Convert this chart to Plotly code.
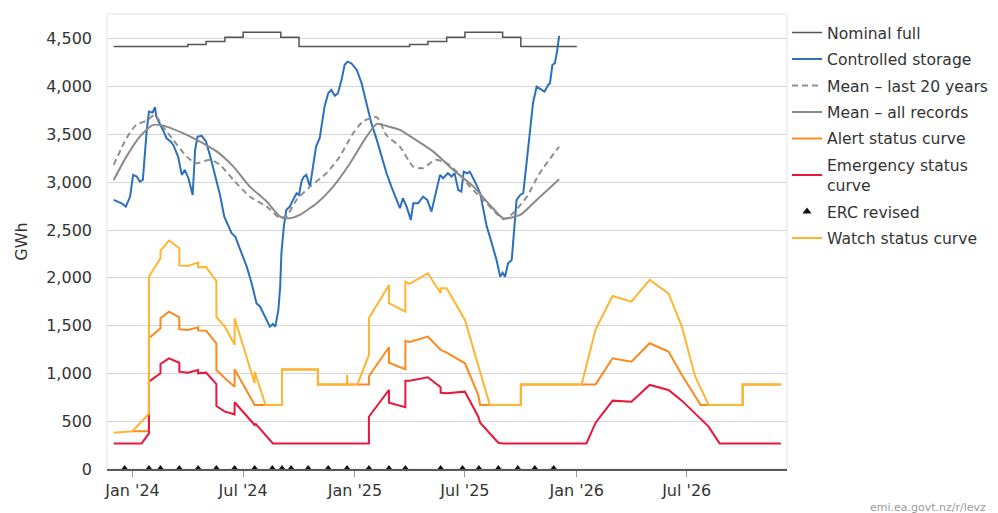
import plotly.graph_objects as go

# ---------------- data ----------------
nominal_dates = ["2023-12-01", "2024-04-01", "2024-05-01", "2024-06-01", "2024-07-01", "2024-09-01",
                 "2024-10-01", "2025-04-01", "2025-05-01", "2025-06-01", "2025-07-01", "2025-09-01",
                 "2025-10-01", "2026-01-01"]
nominal_vals = [4420, 4440, 4472, 4517, 4570, 4517, 4420, 4440, 4472, 4517, 4570, 4517, 4420, 4420]

storage_dates = [
    "2023-12-01", "2023-12-08", "2023-12-14", "2023-12-21", "2023-12-28", "2024-01-02", "2024-01-08",
    "2024-01-13", "2024-01-18", "2024-01-24", "2024-01-28", "2024-02-03", "2024-02-07", "2024-02-09",
    "2024-02-15", "2024-02-20", "2024-02-26", "2024-03-04", "2024-03-08", "2024-03-16", "2024-03-22",
    "2024-03-27", "2024-04-02", "2024-04-09", "2024-04-13", "2024-04-17", "2024-04-24", "2024-05-01",
    "2024-05-08", "2024-05-16", "2024-05-24", "2024-05-31", "2024-06-07", "2024-06-12", "2024-06-18",
    "2024-06-26", "2024-07-01", "2024-07-07", "2024-07-15", "2024-07-23", "2024-07-29", "2024-08-03",
    "2024-08-09", "2024-08-14", "2024-08-19", "2024-08-23", "2024-08-28", "2024-08-31", "2024-09-02",
    "2024-09-06", "2024-09-10", "2024-09-16", "2024-09-21", "2024-09-27", "2024-10-01", "2024-10-05",
    "2024-10-09", "2024-10-13", "2024-10-19", "2024-10-24", "2024-10-29", "2024-11-04", "2024-11-09",
    "2024-11-12", "2024-11-18", "2024-11-23", "2024-11-29", "2024-12-04", "2024-12-10", "2024-12-15",
    "2024-12-20", "2024-12-26", "2025-01-04", "2025-01-12", "2025-01-20", "2025-01-28", "2025-02-06",
    "2025-02-14", "2025-02-22", "2025-03-02", "2025-03-11", "2025-03-16", "2025-03-21", "2025-03-27",
    "2025-04-03", "2025-04-07", "2025-04-15", "2025-04-23", "2025-04-30", "2025-05-07", "2025-05-14",
    "2025-05-21", "2025-05-26", "2025-06-03", "2025-06-09", "2025-06-14", "2025-06-20", "2025-06-25",
    "2025-06-29", "2025-07-05", "2025-07-09", "2025-07-15", "2025-07-20", "2025-07-26", "2025-07-31",
    "2025-08-06", "2025-08-11", "2025-08-17", "2025-08-22", "2025-08-28", "2025-09-01", "2025-09-05",
    "2025-09-10", "2025-09-16", "2025-09-20", "2025-09-24", "2025-09-30", "2025-10-05", "2025-10-11",
    "2025-10-16", "2025-10-21", "2025-10-27", "2025-11-01", "2025-11-09", "2025-11-15", "2025-11-18",
    "2025-11-22", "2025-11-26", "2025-11-30", "2025-12-03"]
storage_vals = [
    2815, 2797, 2780, 2745, 2850, 3077, 3059,
    3006, 3024, 3513, 3739, 3728, 3785, 3687,
    3618, 3547, 3460, 3425, 3390, 3268, 3077,
    3129, 3042, 2867, 3338, 3477, 3485, 3425,
    3268, 3059, 2867, 2640, 2536, 2467, 2431,
    2292, 2222, 2117, 1943, 1734, 1698, 1629,
    1541, 1489, 1517, 1489, 1664, 1908, 2257,
    2536, 2710, 2745, 2815, 2885, 2867, 3006,
    3059, 3077, 2954, 3147, 3373, 3460, 3687,
    3791, 3931, 3966, 3905, 3931, 4071, 4228,
    4262, 4245, 4175, 4036, 3827, 3618, 3443,
    3268, 3094, 2954, 2815, 2728, 2833, 2745,
    2606, 2780, 2780, 2850, 2815, 2693, 2885,
    3077, 3042, 3094, 3059, 3094, 2920, 2902,
    3111, 3094, 3111, 3042, 2972, 2885, 2710,
    2536, 2431, 2310, 2187, 2012, 2054, 2012,
    2152, 2187, 2536, 2815, 2867, 2885, 3234,
    3547, 3827, 4001, 3984, 3949, 4018, 4036,
    4228, 4245, 4385, 4531]

mean20_dates = ["2023-12-01", "2023-12-22", "2024-01-07", "2024-01-24", "2024-02-07", "2024-02-20",
                "2024-03-08", "2024-03-30", "2024-04-15", "2024-05-08", "2024-05-24", "2024-06-15",
                "2024-07-12", "2024-08-09", "2024-08-31", "2024-09-10", "2024-09-27", "2024-10-19",
                "2024-11-15", "2024-12-07", "2024-12-29", "2025-01-14", "2025-02-06", "2025-02-22",
                "2025-03-16", "2025-04-07", "2025-04-23", "2025-05-13", "2025-06-01", "2025-06-23",
                "2025-07-09", "2025-07-31", "2025-08-19", "2025-09-02", "2025-09-18", "2025-10-11",
                "2025-11-01", "2025-12-03"]
mean20_vals = [3181, 3460, 3600, 3645, 3704, 3582,
               3443, 3268, 3199, 3234, 3181, 3024,
               2850, 2745, 2623, 2640, 2815, 2954,
               3094, 3268, 3513, 3635, 3680, 3490,
               3373, 3163, 3147, 3234, 3199, 3077,
               2954, 2815, 2693, 2613, 2676, 2850,
               3094, 3373]

meanall_dates = ["2023-12-01", "2023-12-22", "2024-01-13", "2024-02-04", "2024-02-26", "2024-03-24",
                 "2024-04-21", "2024-05-19", "2024-06-15", "2024-07-12", "2024-08-09", "2024-08-31",
                 "2024-09-16", "2024-10-02", "2024-10-30", "2024-11-26", "2024-12-24", "2025-01-20",
                 "2025-02-06", "2025-02-22", "2025-03-16", "2025-04-07", "2025-05-10", "2025-06-12",
                 "2025-07-15", "2025-08-11", "2025-09-02", "2025-09-30", "2025-10-27", "2025-12-03"]
meanall_vals = [3024, 3268, 3477, 3600, 3582, 3513,
                3425, 3320, 3163, 2954, 2797, 2640,
                2623, 2658, 2780, 2954, 3199, 3477,
                3610, 3589, 3547, 3460, 3320, 3129,
                2954, 2763, 2623, 2658, 2815, 3031]

alert_dates = ["2024-01-01", "2024-01-28", "2024-01-28", "2024-02-16", "2024-02-16", "2024-03-01",
               "2024-03-18", "2024-03-18", "2024-04-01", "2024-04-18", "2024-04-18", "2024-05-01",
               "2024-05-18", "2024-05-18", "2024-06-01", "2024-06-17", "2024-06-17", "2024-07-20",
               "2024-09-03", "2024-09-03", "2024-11-01", "2024-11-01", "2025-01-24", "2025-01-24",
               "2025-02-26", "2025-02-26", "2025-03-25", "2025-03-25", "2025-04-01", "2025-05-01",
               "2025-05-22", "2025-06-01", "2025-07-01", "2025-07-23", "2025-07-26", "2025-10-01",
               "2025-10-01", "2026-02-01", "2026-03-01", "2026-04-01", "2026-05-01", "2026-06-01",
               "2026-06-23", "2026-07-24", "2026-10-01", "2026-10-01", "2026-12-03"]
alert_vals = [395, 395, 1368, 1472, 1577, 1646,
              1587, 1462, 1455, 1483, 1450, 1447,
              1315, 1036, 949, 861, 1043, 670,
              670, 1040, 1040, 885, 885, 970,
              1274, 1112, 1043, 1339, 1330, 1385,
              1245, 1217, 1106, 774, 670, 670,
              885, 885, 1158, 1123, 1315, 1228,
              984, 670, 670, 885, 885]

emerg_dates = ["2023-12-01", "2024-01-16", "2024-01-28", "2024-01-28", "2024-02-16", "2024-02-16",
               "2024-03-01", "2024-03-18", "2024-03-18", "2024-04-01", "2024-04-18", "2024-04-18",
               "2024-05-01", "2024-05-18", "2024-05-18", "2024-06-01", "2024-06-17", "2024-06-17",
               "2024-07-20", "2024-07-22", "2024-08-19", "2025-01-24", "2025-01-24", "2025-02-26",
               "2025-02-26", "2025-03-25", "2025-03-25", "2025-04-01", "2025-05-01", "2025-05-22",
               "2025-05-22", "2025-06-01", "2025-07-01", "2025-07-23", "2025-07-26", "2025-08-25",
               "2025-09-01", "2026-01-17", "2026-02-01", "2026-03-01", "2026-04-01", "2026-05-01",
               "2026-06-01", "2026-06-23", "2026-08-06", "2026-08-24", "2026-12-03"]
emerg_vals = [268, 268, 373, 914, 1001, 1099,
              1158, 1112, 1018, 1008, 1036, 1001,
              1008, 889, 659, 600, 572, 698,
              460, 470, 268, 268, 547, 827,
              694, 646, 924, 924, 960, 855,
              798, 792, 809, 547, 485, 275,
              268, 268, 485, 715, 704, 879,
              827, 715, 443, 268, 268]

watch_dates = ["2023-12-01", "2024-01-01", "2024-01-28", "2024-01-28", "2024-02-16", "2024-02-16",
               "2024-03-01", "2024-03-18", "2024-03-18", "2024-04-01", "2024-04-18", "2024-04-18",
               "2024-05-01", "2024-05-18", "2024-05-18", "2024-06-01", "2024-06-17", "2024-06-17",
               "2024-07-20", "2024-07-20", "2024-08-07", "2024-09-03", "2024-09-03", "2024-11-01",
               "2024-11-01", "2024-12-19", "2024-12-19", "2024-12-20", "2025-01-05", "2025-01-24",
               "2025-01-24", "2025-02-26", "2025-02-26", "2025-03-25", "2025-03-25", "2025-04-01",
               "2025-05-01", "2025-05-22", "2025-05-22", "2025-06-01", "2025-07-01", "2025-07-23",
               "2025-08-11", "2025-10-01", "2025-10-01", "2026-01-09", "2026-02-01", "2026-03-01",
               "2026-04-01", "2026-05-01", "2026-06-01", "2026-06-23", "2026-07-15", "2026-08-06",
               "2026-10-01", "2026-10-01", "2026-12-03"]
watch_vals = [380, 395, 580, 2012, 2205, 2285,
              2390, 2310, 2130, 2124, 2160, 2110,
              2112, 1965, 1590, 1489, 1300, 1577,
              897, 1018, 670, 670, 1040, 1040,
              885, 885, 983, 885, 885, 1193,
              1577, 1925, 1734, 1646, 1960, 1936,
              2048, 1838, 1891, 1891, 1559, 1071,
              670, 670, 885, 885, 1462, 1810,
              1751, 1978, 1838, 1489, 966, 670,
              670, 885, 885]

erc_dates = ["2023-12-19", "2024-01-28", "2024-02-16", "2024-03-18", "2024-04-18", "2024-05-18",
             "2024-06-17", "2024-07-20", "2024-08-18", "2024-09-03", "2024-09-18", "2024-10-16",
             "2024-11-18", "2024-12-19", "2025-01-24", "2025-02-26", "2025-03-25", "2025-05-22",
             "2025-06-27", "2025-07-24", "2025-08-25", "2025-09-26", "2025-10-24", "2025-11-24"]
erc_vals = [0] * len(erc_dates)

# ---------------- figure ----------------
FONT = "DejaVu Sans"
LFS = 15.6
fig = go.Figure()

def add_line(x, y, name, grp, **line):
    fig.add_trace(go.Scatter(x=x, y=y, name=name, mode="lines", legendgroup=grp, line=line))

add_line(nominal_dates, nominal_vals, "Nominal full", "g1", color="#555555", width=1.5, shape="hv")
add_line(storage_dates, storage_vals, "Controlled storage", "g2", color="#2c70bd", width=2)
add_line(mean20_dates, mean20_vals, "Mean – last 20 years", "g3", color="#8f8f8f", width=2,
         dash="6px,4px", shape="spline", smoothing=0.6)
add_line(meanall_dates, meanall_vals, "Mean – all records", "g4", color="#8a8a8a", width=2,
         shape="spline", smoothing=0.6)
add_line(alert_dates, alert_vals, "Alert status curve", "g5", color="#fb8a1e", width=2)
add_line(emerg_dates, emerg_vals, "Emergency status<br>curve", "g6", color="#e8173c", width=2)
fig.add_trace(go.Scatter(x=erc_dates, y=erc_vals, name="ERC revised", mode="markers", legendgroup="g7",
                         marker=dict(symbol="triangle-up", size=8, color="#111111"),
                         cliponaxis=False))
add_line(watch_dates, watch_vals, "Watch status curve", "g8", color="#ffb531", width=2)

# page body adds an 8px offset; figure is sized so the plot lands where the reference has it
fig.update_layout(
    width=990, height=505,
    margin=dict(l=99, r=211, t=6, b=44, autoexpand=False),
    paper_bgcolor="white", plot_bgcolor="white",
    font=dict(family=FONT, size=16, color="#333333"),
    showlegend=True,
    legend=dict(x=1.0, xanchor="left", y=0.996, yanchor="top",
                font=dict(family=FONT, size=LFS, color="#333333"),
                itemwidth=30, tracegroupgap=3.2, bgcolor="rgba(0,0,0,0)"),
    xaxis=dict(type="date", range=["2023-11-20", "2026-12-13"], automargin=False,
               tick0="2024-01-01", dtick="M6", tickformat="%b '%y",
               ticks="outside", ticklen=6, tickcolor="#9a9a9a", tickwidth=1,
               showgrid=False, showline=True, linecolor="#5a5a5a", linewidth=1.5,
               zeroline=False, tickfont=dict(size=16, color="#333333")),
    yaxis=dict(range=[0, 4760], dtick=500, tick0=0, tickformat=",", automargin=False,
               showgrid=True, gridcolor="#d6d6d6", gridwidth=1,
               zeroline=False, showline=False, ticks="",
               ticklabelstandoff=14,
               tickfont=dict(size=16, color="#333333"),
               title=dict(text="GWh", font=dict(size=16, color="#333333"), standoff=14)),
    shapes=[dict(type="rect", xref="paper", yref="paper", x0=0, y0=0, x1=1, y1=1,
                 line=dict(color="#e3e3e3", width=1), layer="below")],
    annotations=[dict(text="emi.ea.govt.nz/r/levz", xref="paper", yref="paper",
                      x=1.0, y=0, xanchor="right", yanchor="middle", showarrow=False,
                      xshift=201, yshift=-38, font=dict(family=FONT, size=11, color="#9a9a9a"))],
)

fig.write_html("out.html")
